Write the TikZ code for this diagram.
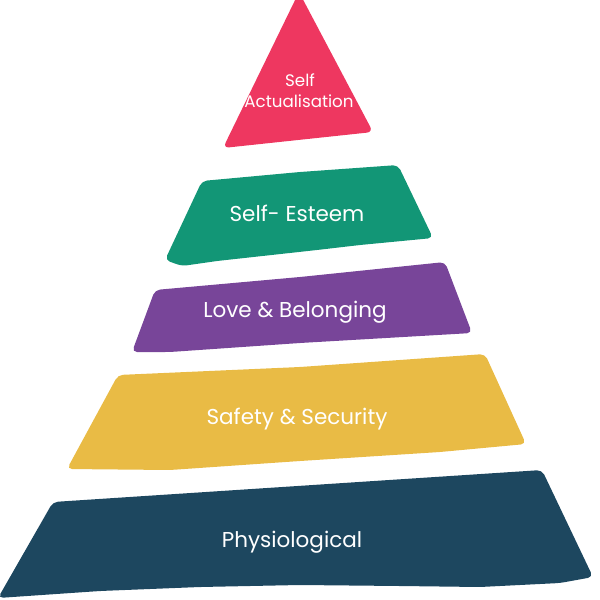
\documentclass[tikz,border=0pt]{standalone}
\usepackage{fontspec}
\setmainfont{Poppins}
\definecolor{cred}{HTML}{EE3760}
\definecolor{cgreen}{HTML}{129676}
\definecolor{cpurple}{HTML}{784599}
\definecolor{cyellow}{HTML}{E9BB45}
\definecolor{cblue}{HTML}{1D475F}
\begin{document}
\begin{tikzpicture}[x=1pt,y=-1pt,
  layer/.style={rounded corners=5pt},
  lbl/.style={text=white,inner sep=0pt,anchor=base,font=\fontsize{21.5}{26}\selectfont},
  smalllbl/.style={text=white,inner sep=0pt,anchor=base,font=\fontsize{16.7}{20}\selectfont}]
\useasboundingbox (0,0) rectangle (600,600);
% Physiological
\fill[cblue,layer] (53,502) -- (542,470) -- (593,577) -- (560,583) -- (480,587) -- (400,586) -- (300,585) -- (200,587) -- (100,591) -- (-2,598) -- cycle;
% Safety
\fill[cyellow,layer] (118,375) -- (300,367) -- (485,354) -- (526,444) -- (440,452) -- (300,461) -- (170,470) -- (67,469) -- cycle;
% Love
\fill[cpurple,layer] (155,290) -- (300,277) -- (445,262) -- (472,333) -- (300,343) -- (170,352) -- (132,352) -- cycle;
% Esteem
\fill[cgreen,layer] (202,181) -- (300,172) -- (398,165) -- (433,238) -- (360,245) -- (317,250) -- (217,261) -- (182,266) -- (165,260) -- cycle;
% Self actualisation
\fill[cred,rounded corners=6pt] (299,-8) -- (373,132) -- (223,148) -- cycle;
% labels
\node[smalllbl] (self) at (300,86) {Self};
\node[smalllbl] (act) at (299,107) {Actualisation};
\node[lbl] (est) at (297,221) {Self- Esteem};
\node[lbl] (love) at (295,317) {Love \& Belonging};
\node[lbl] (safe) at (297,424) {Safety \& Security};
\node[lbl] (phys) at (292,547) {Physiological};
\end{tikzpicture}
\end{document}
